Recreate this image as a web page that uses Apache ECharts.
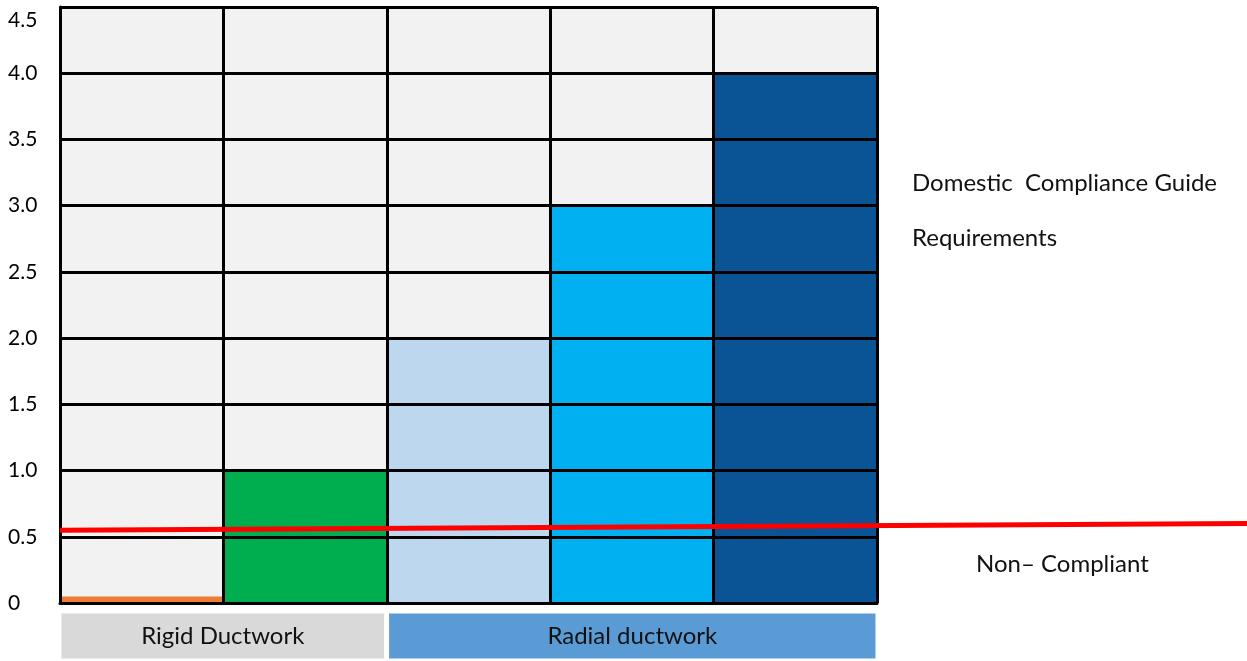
<!DOCTYPE html>
<html><head><meta charset="utf-8">
<script src="https://cdn.jsdelivr.net/npm/echarts@6/dist/echarts.min.js"></script>
<style>html,body{margin:0;padding:0;background:#fff}#c{width:1247px;height:661px}</style>
</head><body><div id="c"></div>
<script>
const categories = ['A', 'B', 'C', 'D', 'E'];
const values = [0.05, 1.0, 2.0, 3.0, 4.0];
const barColors = ['#ed7d31', '#00ad4f', '#bdd7ee', '#00b0f0', '#0a5395'];
const yTicks = [0, 0.5, 1.0, 1.5, 2.0, 2.5, 3.0, 3.5, 4.0, 4.5];
const limitLine = [[0, 0.55], [1, 0.60]];
const groupNames = ['Rigid Ductwork', 'Radial ductwork'];
const groupSpans = [2, 3];
const groupColors = ['#d9d9d9', '#5b9bd5'];

const FONT = 'Lato';
const chart = echarts.init(document.getElementById('c'));
chart.setOption({
  animation: false,
  textStyle: { fontFamily: FONT },
  grid: [
    { left: 60, right: 370, top: 7, bottom: 58, show: true, backgroundColor: '#f2f2f2', borderWidth: 0 },
    { left: 60, right: 0, top: 7, bottom: 58 },
    { left: 59, right: 369, top: 611, bottom: -1 }
  ],
  xAxis: [
    { gridIndex: 0, type: 'category', data: categories, z: 10,
      axisLine: { lineStyle: { color: '#000', width: 3 } }, axisTick: { show: false }, axisLabel: { show: false },
      splitLine: { show: true, interval: 0, lineStyle: { color: '#000', width: 3 } } },
    { gridIndex: 1, type: 'value', min: 0, max: 1, show: false },
    { gridIndex: 2, type: 'value', min: 0, max: 5, show: false }
  ],
  yAxis: [
    { gridIndex: 0, type: 'value', min: 0, max: 4.5, interval: 0.5, z: 10,
      axisLine: { show: true, lineStyle: { color: '#000', width: 3 } }, axisTick: { show: false },
      axisLabel: { align: 'left', margin: 52, color: '#000', fontSize: 21, fontFamily: FONT,
        rich: { top: { fontSize: 21, fontFamily: FONT, color: '#000', padding: [26, 0, 0, 0] } },
        formatter: v => {
          const t = yTicks.find(x => Math.abs(x - v) < 1e-9);
          const s = t === 0 ? '0' : t.toFixed(1);
          return t === yTicks[yTicks.length - 1] ? '{top|' + s + '}' : s;
        } },
      splitLine: { show: true, lineStyle: { color: '#000', width: 3 } } },
    { gridIndex: 1, type: 'value', min: 0, max: 4.5, show: false },
    { gridIndex: 2, type: 'category', data: ['g'], show: false }
  ],
  series: [
    { type: 'bar', xAxisIndex: 0, yAxisIndex: 0, barWidth: '100%', z: 2,
      data: values.map((v, i) => ({ value: v, itemStyle: { color: barColors[i] } })) },
    { type: 'line', xAxisIndex: 1, yAxisIndex: 1, data: limitLine, symbol: 'none', z: 20,
      lineStyle: { color: '#ff0000', width: 5 } },
    ...groupNames.map((n, i) => ({
      type: 'bar', xAxisIndex: 2, yAxisIndex: 2, stack: 'g', barWidth: '100%',
      data: [groupSpans[i]],
      itemStyle: { color: groupColors[i], borderColor: '#fff', borderWidth: 2.5 },
      label: { show: true, position: 'inside', formatter: n, color: '#111', fontSize: 24, fontFamily: FONT }
    }))
  ],
  graphic: [
    { type: 'text', x: 912, y: 183, style: { text: 'Domestic  Compliance Guide', fontSize: 24, fontFamily: FONT, fill: '#111', verticalAlign: 'middle' } },
    { type: 'text', x: 912, y: 238, style: { text: 'Requirements', fontSize: 24, fontFamily: FONT, fill: '#111', verticalAlign: 'middle' } },
    { type: 'text', x: 976, y: 564, style: { text: 'Non\u2013 Compliant', fontSize: 24, fontFamily: FONT, fill: '#111', verticalAlign: 'middle' } }
  ]
});
</script></body></html>
